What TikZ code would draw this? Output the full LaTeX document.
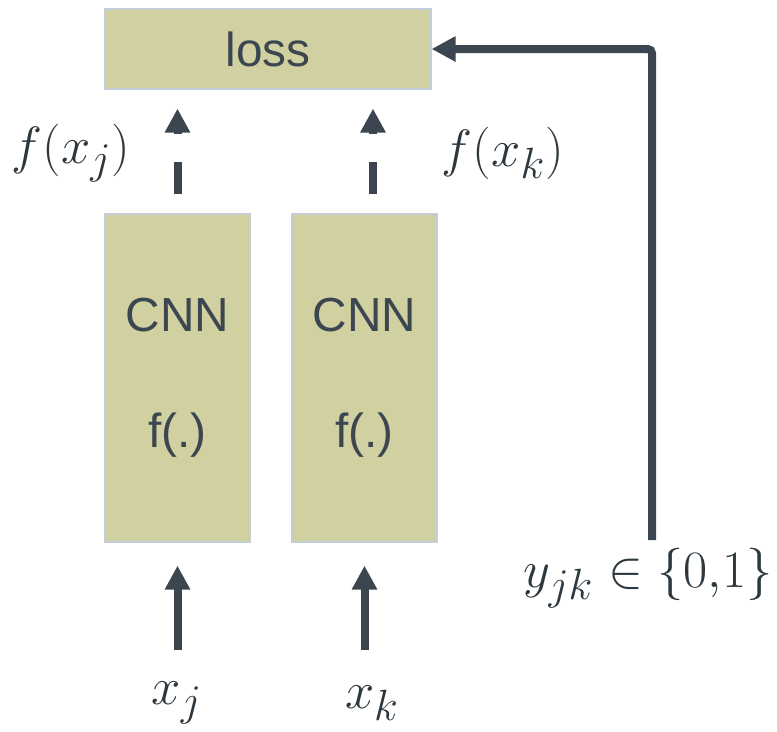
\documentclass[tikz,border=0pt]{standalone}
\usepackage{fontspec}
\setmainfont{Liberation Sans}
\usepackage{tikz}
\usetikzlibrary{arrows.meta,calc}
\definecolor{BoxFill}{RGB}{208,208,160}
\definecolor{BoxLine}{RGB}{196,206,216}
\definecolor{ArrCol} {RGB}{59,70,80}
\definecolor{MathCol}{RGB}{45,55,62}
\newcommand{\bigmath}[1]{\scalebox{1.5}{$#1$}}
\tikzset{
  nd_loss/.style={
    rectangle, draw=BoxLine, fill=BoxFill, line width=0.8pt,
    minimum width=8.15cm, minimum height=2cm,
    font=\fontsize{34}{40}\selectfont, text=ArrCol},
  nd_cnn/.style={
    rectangle, draw=BoxLine, fill=BoxFill, line width=0.8pt,
    minimum width=3.625cm, minimum height=8.2cm,
    align=center, font=\fontsize{34}{40}\selectfont, text=ArrCol},
  nd_math/.style={font=\fontsize{24.88}{30}\selectfont, text=MathCol, inner sep=0pt},
  arr/.style={-{Triangle[length=0.6cm,width=0.6cm]}, line width=0.2cm, draw=ArrCol},
  arr_dash/.style={arr, dash pattern=on 0.8cm off 0.7cm},
}

\begin{document}
\begin{tikzpicture}[x=0.025cm,y=-0.025cm]
\useasboundingbox (0,0) rectangle (777,731);

%% boxes
\node[nd_loss] at (268,49)    (loss){loss};
\node[nd_cnn]  at (177.5,378) (cnnA){CNN\\[1.5cm]f(.)};
\node[nd_cnn]  at (364.5,378) (cnnB){CNN\\[1.5cm]f(.)};

%% labels
\node[nd_math] at (71,153)  (fxj){\bigmath{f(x_j)}};
\node[nd_math] at (503,153) (fxk){\bigmath{f(x_k)}};
\node[nd_math] at (177,703) (xj){\bigmath{x_j}};
\node[nd_math] at (372,703) (xk){\bigmath{x_k}};
\node[nd_math] at (648,578) (yjk){\bigmath{y_{jk}\in\{0{,}1\}}};
\coordinate (yfb) at (652,540);

\draw[arr] ($(cnnA.south)+(0,107)$) -- ([yshift=-0.575cm]cnnA.south);
\draw[arr] ($(cnnB.south)+(0,107)$) -- ([yshift=-0.575cm]cnnB.south);

\draw[arr_dash] ($(cnnA.north)+(0,-19)$) -- ($(cnnA.north |- loss.south)+(0,19)$);
\draw[arr_dash] ($(cnnB.north)+(8.5,-19)$) -- ($(cnnB.north |- loss.south)+(8.5,19)$);

\draw[arr,rounded corners=3pt] (yfb) |- (loss.east);

\end{tikzpicture}
\end{document}
